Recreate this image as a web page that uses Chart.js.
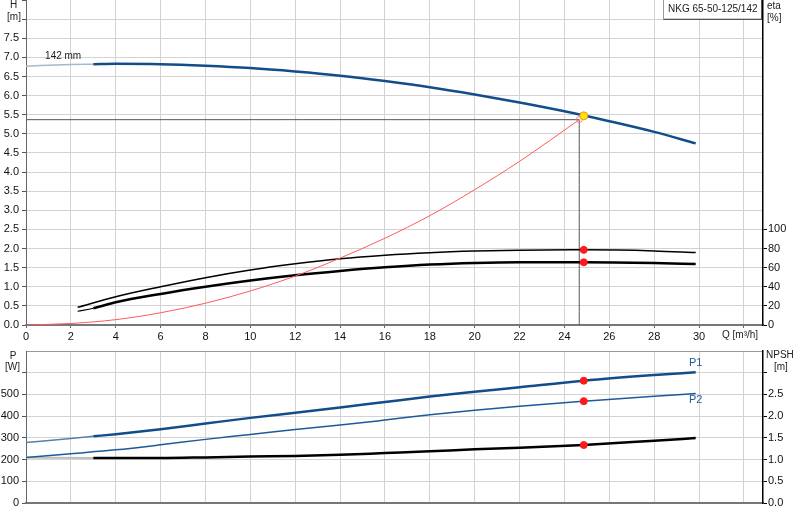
<!DOCTYPE html>
<html>
<head>
<meta charset="utf-8">
<script src="https://cdn.jsdelivr.net/npm/chart.js@4.4.1/dist/chart.umd.min.js"></script>
<style>
  html, body { margin: 0; padding: 0; background: #fff; }
  body { width: 800px; height: 520px; position: relative; overflow: hidden; }
  canvas { position: absolute; left: 0; }
  #top { top: 0; }
  #bot { top: 350px; }
</style>
</head>
<body>
<canvas id="top" width="800" height="345"></canvas>
<canvas id="bot" width="800" height="170"></canvas>
<script>
// ---------- data ----------
const title = 'NKG 65-50-125/142';
const impellerLabel = '142 mm';

const qH   = [0, 2, 3, 4, 6, 8, 10, 12, 14, 16, 18, 20, 22, 24, 26, 28, 29.85];
const headH = [6.77, 6.81, 6.82, 6.83, 6.82, 6.78, 6.72, 6.63, 6.52, 6.38, 6.22, 6.03, 5.82, 5.59, 5.33, 5.05, 4.75];

const qSys = [0, 2, 4, 6, 8, 10, 12, 14, 16, 18, 20, 22, 24.66];
const headSys = [0, 0.04, 0.14, 0.32, 0.57, 0.89, 1.28, 1.75, 2.27, 2.86, 3.54, 4.28, 5.37];

const qEta1 = [2.3, 4, 6, 8, 10, 12, 14, 16, 18, 20, 22, 24.86, 28, 29.85];
const eta1  = [18.5, 29.6, 40, 49.5, 57.5, 64, 69.3, 73, 75.6, 77.3, 78.3, 78.6, 77.5, 75.8];

const qEta2 = [2.3, 3, 4, 6, 8, 10, 12, 14, 16, 18, 20, 22, 24.86, 28, 29.85];
const eta2  = [14.4, 17.5, 23.8, 32.5, 40, 46.5, 52, 56.5, 60.3, 63.2, 64.9, 65.6, 65.6, 64.8, 63.8];

const qP1 = [0, 2, 3, 4, 6, 8, 10, 12, 14, 16, 18, 20, 22, 24.86, 28, 29.85];
const p1  = [279, 297, 307, 317, 340, 366, 392, 416, 440, 465, 490, 512, 533, 563, 589, 602];

const qP2 = [0, 2, 4, 6, 8, 10, 12, 14, 16, 18, 20, 22, 24.86, 28, 29.85];
const p2  = [209, 227, 245, 268, 293, 316, 339, 359, 382, 406, 427, 446, 469, 492, 504];

const qNpsh = [0, 3, 6, 8, 10, 12, 14, 16, 18, 20, 22, 24.86, 28, 29.85];
const npsh  = [1.045, 1.035, 1.035, 1.05, 1.07, 1.085, 1.11, 1.15, 1.19, 1.235, 1.27, 1.335, 1.435, 1.495];

// duty point
const dutyQ = 24.86, dutyH = 5.47, dutyEta1 = 78.6, dutyEta2 = 65.6;
const dutyP1 = 563, dutyP2 = 469, dutyNpsh = 1.335;
const reqQ = 24.66, reqH = 5.37;

// axis ranges / ticks
const qMax = 32.85;
const hMax = 8.5, hLabelMax = 7.5;
const etaMax = 340, etaLabelMax = 100;
const pMax = 700, pLabelMax = 500;
const npshMax = 3.5, npshLabelMax = 2.5;

// ---------- helpers ----------
const pts = (xs, ys) => xs.map((x, i) => ({x, y: ys[i]}));
const FONT = '"Liberation Sans", Arial, sans-serif';
const GRID = '#d3d3d3';
Chart.defaults.font.family = FONT;
Chart.defaults.font.size = 11;
Chart.defaults.color = '#111';

function fixW(w) { return s => { s.width = w; s.paddingTop = 0; s.paddingBottom = 0; }; }
function fixH(h) { return s => { s.height = h; s.paddingLeft = 0; s.paddingRight = 0; }; }
const lowQ = (c1, c2) => ctx => ctx.p0.parsed.x < 3 ? c1 : c2;

function textPlugin(drawFn) {
  return { id: 'txt', afterDraw(chart) { const c = chart.ctx; c.save(); drawFn(c, chart); c.restore(); } };
}

// ---------- top chart ----------
new Chart(document.getElementById('top'), {
  type: 'line',
  data: {
    datasets: [
      { data: [{x: dutyQ, y: dutyH}], yAxisID: 'y', showLine: false, pointRadius: 4,
        pointBackgroundColor: '#ffe600', pointBorderColor: '#f0902a', pointBorderWidth: 1, order: 0 },
      { data: [{x: reqQ, y: reqH}], yAxisID: 'y', showLine: false, pointRadius: 3,
        pointBackgroundColor: 'rgba(0,0,0,0)', pointBorderColor: '#f28c8c', pointBorderWidth: 1, order: 0 },
      { data: [{x: dutyQ, y: dutyEta1}, {x: dutyQ, y: dutyEta2}], yAxisID: 'y2', showLine: false, pointRadius: 3.5,
        pointBackgroundColor: '#ff1a1a', pointBorderColor: '#ff1a1a', order: 0 },
      { data: pts(qH, headH), yAxisID: 'y', borderColor: '#124d8b', borderWidth: 2.5,
        segment: { borderColor: lowQ('#a7b8cc', undefined), borderWidth: lowQ(1.5, undefined) }, order: 1 },
      { data: pts(qSys, headSys), yAxisID: 'y', borderColor: '#ff5a5a', borderWidth: 1, order: 1 },
      { data: pts(qEta1, eta1), yAxisID: 'y2', borderColor: '#000', borderWidth: 1.5, order: 1 },
      { data: pts(qEta2, eta2), yAxisID: 'y2', borderColor: '#000', borderWidth: 2.5,
        segment: { borderWidth: lowQ(1.2, undefined) }, order: 1 },
      { data: [{x: 0, y: reqH}, {x: reqQ, y: reqH}], yAxisID: 'y', borderColor: '#555', borderWidth: 1, tension: 0, order: 2 },
      { data: [{x: reqQ, y: 0}, {x: reqQ, y: reqH}], yAxisID: 'y', borderColor: '#555', borderWidth: 1, tension: 0, order: 2 }
    ]
  },
  options: {
    responsive: false, animation: false,
    layout: { padding: 0, autoPadding: false },
    elements: { point: { radius: 0 }, line: { cubicInterpolationMode: 'monotone', fill: false } },
    plugins: { legend: { display: false }, tooltip: { enabled: false } },
    scales: {
      x: { type: 'linear', min: 0, max: qMax,
        ticks: { stepSize: 2, includeBounds: false, padding: 2, maxRotation: 0, autoSkip: false,
                 callback: v => v > 31 ? '' : String(v) },
        grid: { color: GRID, tickLength: 3, tickColor: '#666' },
        border: { color: '#777', width: 2 },
        afterFit: fixH(20) },
      y: { position: 'left', min: 0, max: hMax,
        ticks: { stepSize: 0.5, includeBounds: false, padding: 3,
                 callback: v => v > hLabelMax ? '' : v.toFixed(1) },
        grid: { color: c => c.tick && c.tick.value >= hMax ? 'rgba(0,0,0,0)' : GRID, tickLength: 4, tickColor: '#555' },
        border: { color: '#666', width: 1 },
        afterFit: fixW(26) },
      y2: { position: 'right', min: 0, max: etaMax,
        ticks: { stepSize: 20, includeBounds: false, padding: 1,
                 callback: v => v > etaLabelMax ? '' : String(v) },
        grid: { drawOnChartArea: false, tickLength: 4,
                tickColor: c => c.tick && c.tick.value > etaLabelMax ? 'rgba(0,0,0,0)' : '#000' },
        border: { color: '#000', width: 1.5 },
        afterFit: fixW(37) }
    }
  },
  plugins: [textPlugin((c, chart) => {
    c.font = '10px ' + FONT;
    c.fillStyle = '#222';
    c.textBaseline = 'middle';
    c.textAlign = 'center';
    c.fillText('H', 13.5, 5.5);
    c.fillText('[m]', 14, 17.5);
    c.textAlign = 'left';
    c.fillText('eta', 767, 6);
    c.fillText('[%]', 767, 18);
    c.fillText('Q [m³/h]', 722, 335.5);
    const xs = chart.scales.x, ys = chart.scales.y;
    c.fillText(impellerLabel, xs.getPixelForValue(0.85), ys.getPixelForValue(7.03));
    // title box
    c.fillStyle = '#fff';
    c.fillRect(663.5, -1, 98, 20);
    c.strokeStyle = '#999';
    c.lineWidth = 1;
    c.strokeRect(663.5, -1, 98, 20);
    c.strokeStyle = '#555';
    c.beginPath();
    c.moveTo(663.5, 19.5); c.lineTo(762, 19.5);
    c.moveTo(761.5, 0); c.lineTo(761.5, 19.5);
    c.stroke();
    c.fillStyle = '#222';
    c.fillText(title, 668, 9.5);
  })]
});

// ---------- bottom chart ----------
new Chart(document.getElementById('bot'), {
  type: 'line',
  data: {
    datasets: [
      { data: [{x: dutyQ, y: dutyP1}, {x: dutyQ, y: dutyP2}], yAxisID: 'y', showLine: false, pointRadius: 3.5,
        pointBackgroundColor: '#ff1a1a', pointBorderColor: '#ff1a1a', order: 0 },
      { data: [{x: dutyQ, y: dutyNpsh}], yAxisID: 'y2', showLine: false, pointRadius: 3.5,
        pointBackgroundColor: '#ff1a1a', pointBorderColor: '#ff1a1a', order: 0 },
      { data: pts(qP1, p1), yAxisID: 'y', borderColor: '#124d8b', borderWidth: 2.5,
        segment: { borderColor: lowQ('#5a7fa8', undefined), borderWidth: lowQ(1.5, undefined) }, order: 1 },
      { data: pts(qP2, p2), yAxisID: 'y', borderColor: '#1d5a99', borderWidth: 1.5, order: 1 },
      { data: pts(qNpsh, npsh), yAxisID: 'y2', borderColor: '#000', borderWidth: 2.5,
        segment: { borderColor: lowQ('#bdbdbd', undefined), borderWidth: lowQ(2, undefined) }, order: 1 }
    ]
  },
  options: {
    responsive: false, animation: false,
    layout: { padding: { top: 1 }, autoPadding: false },
    elements: { point: { radius: 0 }, line: { cubicInterpolationMode: 'monotone', fill: false } },
    plugins: { legend: { display: false }, tooltip: { enabled: false } },
    scales: {
      x: { type: 'linear', min: 0, max: qMax,
        ticks: { display: false, stepSize: 2, includeBounds: false },
        grid: { color: GRID, drawTicks: false },
        border: { color: '#777', width: 2 },
        afterFit: fixH(17) },
      y: { position: 'left', min: 0, max: pMax,
        ticks: { stepSize: 100, includeBounds: false, padding: 3,
                 callback: v => v > pLabelMax ? '' : String(v) },
        grid: { color: c => c.tick && c.tick.value >= pMax ? '#999' : GRID, tickLength: 4,
                tickColor: c => c.tick && c.tick.value >= pMax ? 'rgba(0,0,0,0)' : '#555' },
        border: { color: '#666', width: 1 },
        afterFit: fixW(26) },
      y2: { position: 'right', min: 0, max: npshMax,
        ticks: { stepSize: 0.5, includeBounds: false, padding: 1,
                 callback: v => v > npshLabelMax ? '' : v.toFixed(1) },
        grid: { drawOnChartArea: false, tickLength: 4,
                tickColor: c => c.tick && c.tick.value >= npshMax ? 'rgba(0,0,0,0)' : '#000' },
        border: { color: '#000', width: 1.5 },
        afterFit: fixW(37) }
    }
  },
  plugins: [textPlugin((c, chart) => {
    c.font = '10px ' + FONT;
    c.fillStyle = '#222';
    c.textBaseline = 'middle';
    c.textAlign = 'center';
    c.fillText('P', 13, 6);
    c.fillText('[W]', 12.5, 17);
    c.textAlign = 'left';
    c.fillText('NPSH', 766, 5.5);
    c.fillText('[m]', 774, 17);
    c.fillStyle = '#1d5a99';
    c.font = '11px ' + FONT;
    c.fillText('P1', 689, 13);
    c.fillText('P2', 689, 50);
  })]
});
</script>
</body>
</html>
